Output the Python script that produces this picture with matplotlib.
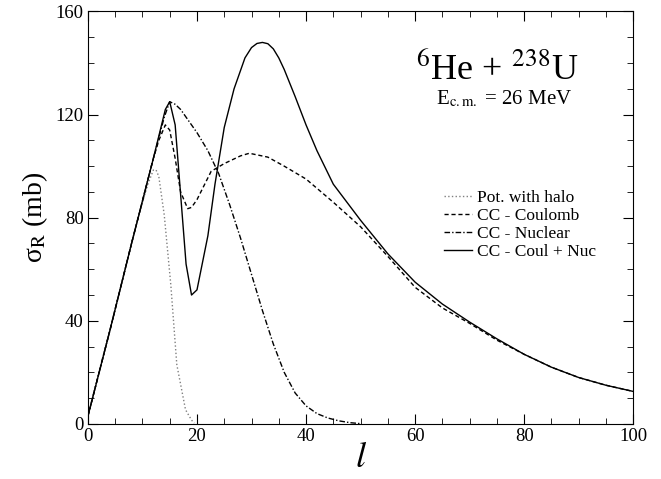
import matplotlib.pyplot as plt
from matplotlib.ticker import MultipleLocator

plt.rcParams['font.family'] = ['Liberation Serif', 'DejaVu Serif']
plt.rcParams['mathtext.fontset'] = 'stix'

# pot. with halo
l_halo = [0, 2, 4, 6, 8, 10, 11, 12, 12.5, 13, 14, 15.2, 16.3, 17.9, 19, 19.5]
s_halo = [3, 20, 36, 53, 70, 86, 93, 98.5, 98.5, 96, 81, 54, 23, 5.5, 1.5, 0.3]

# CC - Coulomb
l_coul = [0, 4, 8, 12, 13, 14.2, 15, 16, 17, 18.3, 19, 20, 22.6, 25, 28, 29.6, 33, 36, 40, 45, 50,
          55, 60, 65, 70, 75, 80, 85, 90, 95, 100]
s_coul = [3, 36, 70, 103, 110, 116, 114, 103, 90, 83.5, 84, 87, 98, 101, 104, 105, 103.5, 100, 95,
          86, 76.5, 65, 53, 45, 39, 32.5, 27, 22, 18, 15, 12.6]

# CC - Nuclear
l_nuc = [0, 4, 8, 12, 14, 15, 16, 17, 18, 20, 22, 24, 26, 28, 30, 32, 34, 36, 38, 40, 42, 44, 46, 48, 50]
s_nuc = [3, 36, 70, 103, 119, 125, 124, 122, 119, 113, 106, 97, 85, 72, 58, 44, 31, 20, 12, 7, 4,
         2.3, 1.2, 0.5, 0.1]

# CC - Coul + Nuc
l_tot = [0, 4, 8, 12, 14.2, 15, 16, 18, 19, 20, 22, 23.3, 25, 26.8, 28.8, 30, 31, 32, 33, 34, 35,
         36, 38, 40, 42, 45, 50, 55, 60, 65, 70, 75, 80, 85, 90, 95, 100]
s_tot = [3, 36, 70, 103, 122, 125, 116, 62, 50, 52, 73, 93, 115, 130, 142, 146, 147.6, 148, 147.5,
         145.5, 142, 137.5, 127, 116, 106, 93, 79, 66, 55, 46.5, 39.5, 33, 27, 22, 18, 15, 12.6]

fig = plt.figure(figsize=(6.61, 4.79), dpi=100)
ax = fig.add_axes([0.133, 0.115, 0.825, 0.861])

ax.plot(l_halo, s_halo, color='gray', ls=':', lw=1, label='Pot. with halo')
ax.plot(l_coul, s_coul, color='black', ls='--', lw=1, dashes=(3, 2), label='CC - Coulomb')
ax.plot(l_nuc, s_nuc, color='black', ls='-.', lw=1, dashes=(4, 1.5, 1, 1.5), label='CC - Nuclear')
ax.plot(l_tot, s_tot, color='black', ls='-', lw=1, label='CC - Coul + Nuc')

ax.set_xlim(0, 100)
ax.set_ylim(0, 160)
ax.xaxis.set_major_locator(MultipleLocator(20))
ax.xaxis.set_minor_locator(MultipleLocator(5))
ax.yaxis.set_major_locator(MultipleLocator(40))
ax.yaxis.set_minor_locator(MultipleLocator(10))
ax.tick_params(which='both', direction='in', top=True, right=True, labelsize=13.5, pad=3)
ax.tick_params(which='major', length=7)
ax.tick_params(which='minor', length=4)

ax.set_xlabel('$l$', fontsize=26, labelpad=-2)
ax.set_ylabel('σ$_\\mathrm{R}$ (mb)', fontsize=20, labelpad=4)

ax.text(0.75, 0.837, r'$^{6}$He + $^{238}$U', transform=ax.transAxes, fontsize=26, ha='center')
ax.text(0.763, 0.776, r'E$_{\mathrm{c.m.}}$ = 26 MeV', transform=ax.transAxes, fontsize=15, ha='center')

ax.legend(loc='center right', bbox_to_anchor=(0.945, 0.483), frameon=False, fontsize=12.5,
          handlelength=1.6, handletextpad=0.3, labelspacing=0.1, borderaxespad=0)

fig.savefig('out.png', dpi=100)
